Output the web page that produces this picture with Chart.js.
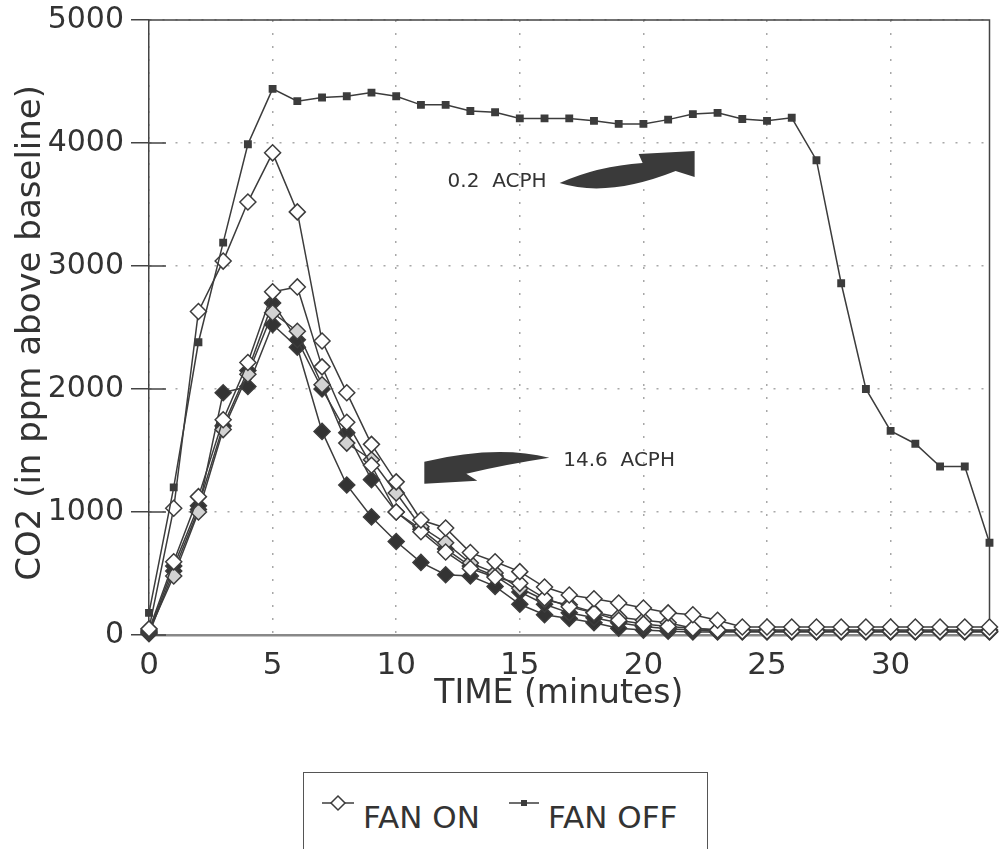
<!DOCTYPE html>
<html>
<head>
<meta charset="utf-8">
<script src="https://cdn.jsdelivr.net/npm/chart.js@4.4.1/dist/chart.umd.min.js"></script>
<style>
  body { margin: 0; background: #fff; overflow: hidden; }
  #wrap { position: relative; width: 999px; height: 849px; }
  #legend { position: absolute; left: 303px; top: 772px; width: 405px; height: 110px;
    border: 1.5px solid #555; box-sizing: border-box; background: #fff;
    font-family: "DejaVu Sans"; font-size: 31px; line-height: 31px; color: #333; }
  #legend svg, #legend span { position: absolute; }
</style>
</head>
<body>
<div id="wrap">
  <canvas id="co2" width="999" height="849"></canvas>
  <div id="legend"></div>
</div>
<script>
// minutes on the x axis
var minutes = [0,1,2,3,4,5,6,7,8,9,10,11,12,13,14,15,16,17,18,19,20,21,22,23,24,25,26,27,28,29,30,31,32,33,34];

// 0.2 ACPH, fan off (small squares)
var fanOff02 = [180,1200,2380,3190,3990,4440,4340,4370,4380,4410,4380,4310,4310,4260,4250,4200,4200,4200,4180,4155,
  4155,4190,4235,4245,4195,4180,4205,3860,2860,2000,1660,1555,1370,1370,750];

// 0.2 ACPH, fan on (open diamonds)
var fanOn02 = [50,1030,2630,3040,3520,3920,3440,2390,1970,1550,1245,935,870,670,595,515,390,325,295,260,
  220,180,165,120,65,65,65,65,65,65,65,65,65,65,65];

// 14.6 ACPH runs
var run146a = [40,595,1125,1750,2215,2790,2830,2180,1730,1380,1000,840,675,540,470,420,300,230,180,120,
  90,70,55,40,30,30,30,30,30,30,30,30,30,30,30];
var run146b = [30,480,1000,1670,2120,2620,2470,2035,1560,1425,1155,880,750,585,505,380,285,245,185,145,
  120,100,55,40,40,40,40,40,40,40,40,40,40,40,40];
var run146c = [20,560,1050,1700,2150,2700,2400,2000,1645,1263,1000,860,700,560,480,350,250,180,140,100,
  70,50,40,30,30,30,30,30,30,30,30,30,30,30,30];
var run146d = [10,520,1020,1970,2020,2525,2340,1655,1220,960,760,590,490,480,395,250,165,135,100,55,
  40,30,25,25,25,25,25,25,25,25,25,25,25,25,25];

var legendLabels = ['FAN ON', 'FAN OFF'];
var axisTitles = ['TIME (minutes)  ', 'CO2 (in ppm above baseline) '];

// text notes: position in data units (minutes, ppm), arrow in px offsets from it
var notes = [
  { text: '0.2  ACPH', x: 12.08, y: 3682,
    arrow: [['M',112,1],['Q',150,-16,195,-19],['L',191,-28],['L',247,-31],['L',247,-5],['L',228,-11],['Q',160,16,112,1]] },
  { text: '14.6  ACPH', x: 16.76, y: 1417,
    arrow: [['M',-14,-3],['Q',-67,-16,-139,1],['L',-139,23],['L',-86,20],['L',-97,13],['Q',-60,4,-14,-3]] }
];

var ink = '#3c3c3c';

function pts(vals) {
  return vals.map(function(v, i) { return { x: minutes[i], y: v }; });
}

function series(label, vals, style, radius, fillCol) {
  return {
    label: label,
    data: pts(vals),
    borderColor: ink,
    borderWidth: 1.5,
    pointStyle: style,
    pointRadius: radius,
    pointBackgroundColor: fillCol,
    pointBorderColor: ink,
    pointBorderWidth: 1.5,
    tension: 0,
    fill: false,
    clip: false
  };
}

Chart.defaults.font.family = '"DejaVu Sans"';
Chart.defaults.color = '#333';

// top / right frame and inner halves of the y ticks
var frame = {
  id: 'frame',
  beforeDatasetsDraw: function(chart) {
    var ctx = chart.ctx, a = chart.chartArea, y = chart.scales.y;
    ctx.save();
    ctx.strokeStyle = '#444';
    ctx.lineWidth = 1.5;
    ctx.beginPath();
    ctx.moveTo(a.left, a.top);
    ctx.lineTo(a.right, a.top);
    ctx.lineTo(a.right, a.bottom);
    y.ticks.forEach(function(t) {
      var py = y.getPixelForValue(t.value);
      ctx.moveTo(a.left, py);
      ctx.lineTo(a.left + 17, py);
    });
    ctx.stroke();
    ctx.restore();
  }
};

var notePlugin = {
  id: 'notes',
  afterDatasetsDraw: function(chart) {
    var ctx = chart.ctx, xs = chart.scales.x, ys = chart.scales.y;
    ctx.save();
    notes.forEach(function(n) {
      var px = xs.getPixelForValue(n.x), py = ys.getPixelForValue(n.y);
      ctx.font = '20px "DejaVu Sans"';
      ctx.fillStyle = '#333';
      ctx.textBaseline = 'middle';
      ctx.textAlign = 'left';
      ctx.fillText(n.text, px, py);
      ctx.beginPath();
      n.arrow.forEach(function(c) {
        if (c[0] === 'M') ctx.moveTo(px + c[1], py + c[2]);
        else if (c[0] === 'L') ctx.lineTo(px + c[1], py + c[2]);
        else ctx.quadraticCurveTo(px + c[1], py + c[2], px + c[3], py + c[4]);
      });
      ctx.closePath();
      ctx.fillStyle = '#3a3a3a';
      ctx.fill();
    });
    ctx.restore();
  }
};

var chart = new Chart(document.getElementById('co2'), {
  type: 'line',
  data: {
    datasets: [
      series('FAN OFF 0.2 ACPH', fanOff02, 'rect', 4.5, ink),
      series('FAN ON 0.2 ACPH', fanOn02, 'rectRot', 8, '#fff'),
      series('14.6 ACPH a', run146a, 'rectRot', 8, '#fff'),
      series('14.6 ACPH b', run146b, 'rectRot', 8, '#d2d2d2'),
      series('14.6 ACPH c', run146c, 'rectRot', 8, '#333'),
      series('14.6 ACPH d', run146d, 'rectRot', 8, '#333')
    ]
  },
  options: {
    responsive: false,
    animation: false,
    layout: { padding: { top: 20, right: 2, left: 0, bottom: 0 } },
    plugins: { legend: { display: false }, tooltip: { enabled: false } },
    scales: {
      x: {
        type: 'linear', min: 0, max: 34,
        afterBuildTicks: function(s) { s.ticks = s.ticks.filter(function(t) { return t.value % 5 === 0; }); },
        afterFit: function(s) { s.height = 214; s.paddingLeft = 0; s.paddingRight = 0; },
        ticks: { stepSize: 5, font: { size: 31 }, padding: 12, maxRotation: 0 },
        grid: { color: '#a8a8a8', lineWidth: 1.5, drawTicks: false },
        border: { color: '#888', width: 2.5, dash: [2, 11] },
        title: { display: true, text: axisTitles[0], font: { size: 33 }, padding: { top: 0, bottom: 135 } }
      },
      y: {
        min: 0, max: 5000,
        afterFit: function(s) { s.width = 149; s.paddingTop = 0; s.paddingBottom = 0; },
        ticks: { stepSize: 1000, font: { size: 30 }, padding: 7,
          callback: function(v) { return String(v); } },
        grid: { color: '#a8a8a8', lineWidth: 1.5, tickLength: 18, tickColor: '#444', tickWidth: 1.5 },
        border: { color: '#444', width: 1.5, dash: [2, 11] },
        title: { display: true, text: axisTitles[1], font: { size: 34 }, padding: { top: 11, bottom: 0 } }
      }
    }
  },
  plugins: [frame, notePlugin]
});

// boxed legend under the chart
var lg = document.getElementById('legend');
lg.innerHTML =
  '<svg style="left:16px;top:20px" width="36" height="20">' +
    '<line x1="2" y1="10" x2="34" y2="10" stroke="' + ink + '" stroke-width="1.5"/>' +
    '<polygon points="18,3 25,10 18,17 11,10" fill="#fff" stroke="' + ink + '" stroke-width="1.5"/></svg>' +
  '<span style="left:59px;top:29px">' + legendLabels[0] + '</span>' +
  '<svg style="left:202px;top:20px" width="36" height="20">' +
    '<line x1="3" y1="10" x2="33" y2="10" stroke="' + ink + '" stroke-width="1.5"/>' +
    '<rect x="15" y="7" width="6" height="6" fill="' + ink + '"/></svg>' +
  '<span style="left:244px;top:29px">' + legendLabels[1] + '</span>';
</script>
</body>
</html>
